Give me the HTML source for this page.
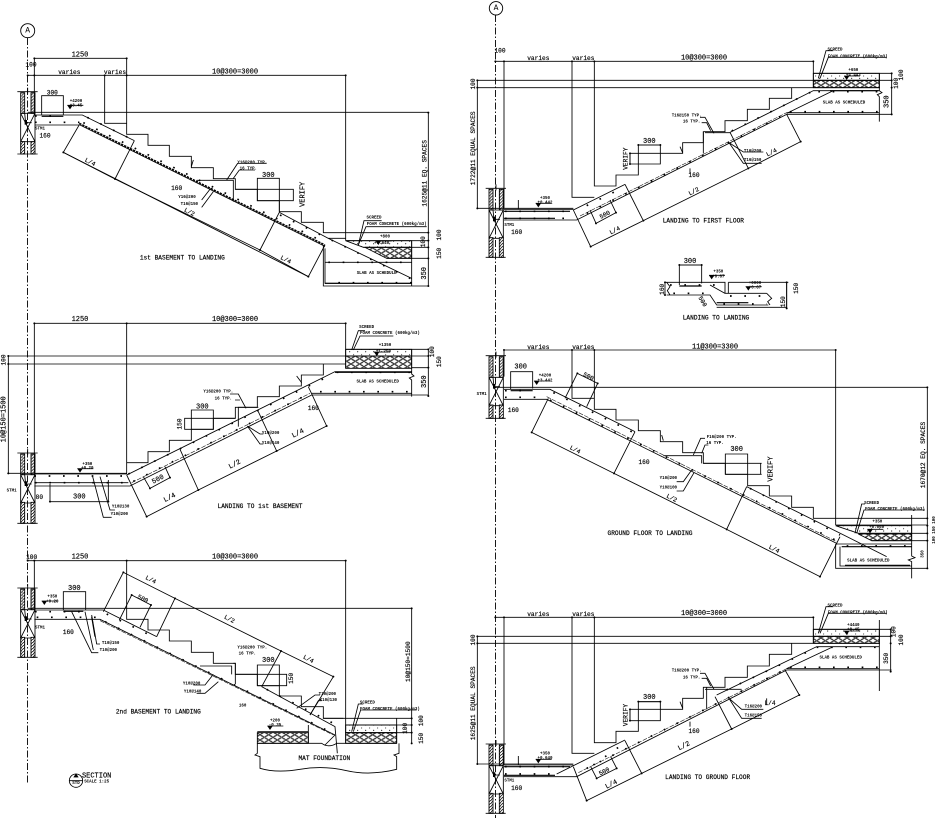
<!DOCTYPE html>
<html><head><meta charset="utf-8"><style>
html,body{margin:0;padding:0;background:#fff}
svg{display:block}
.l{fill:none;stroke:#000;stroke-width:2.6}
.l path,.l polyline,.l line{fill:none}
.dm{marker-start:url(#m);marker-mid:url(#m);marker-end:url(#m)}
.d{fill:none;stroke:#000;stroke-width:5;stroke-dasharray:5 38}
.r{fill:none;stroke:#000;stroke-width:4.5;stroke-dasharray:7 3}
.b{fill:none;stroke:#000;stroke-width:3.4}
.dd{fill:none;stroke:#000;stroke-width:1.6;stroke-dasharray:14 4}
.wh{fill:url(#wh);stroke:#000;stroke-width:2.6}
.hc{fill:url(#hc);stroke:#000;stroke-width:2.6}
.pc{fill:url(#pc);stroke:#000;stroke-width:2.6}
text{font-family:"Liberation Mono",monospace;fill:#000;stroke:#000;stroke-width:.5;text-anchor:middle;dominant-baseline:central}
.t{font-size:21px}
.m{font-size:18.5px}
.s{font-size:12.5px;font-weight:bold;stroke:none}
</style></head><body>
<svg width="939" height="818" viewBox="0 0 939 818" xmlns="http://www.w3.org/2000/svg">
<defs>
<marker id="m" markerUnits="userSpaceOnUse" markerWidth="8" markerHeight="8" refX="4" refY="4"><circle cx="4" cy="4" r="3" fill="#000"/></marker>
<pattern id="wh" patternUnits="userSpaceOnUse" width="9" height="9"><rect width="9" height="9" fill="#fff"/><path d="M-1 10L10 -1" stroke="#000" stroke-width="2.2"/><circle cx="2" cy="2" r="1.1" fill="#000"/></pattern>
<pattern id="hc" patternUnits="userSpaceOnUse" width="26" height="16"><ellipse cx="13" cy="8" rx="11" ry="6.5" fill="none" stroke="#000" stroke-width="1.6"/><ellipse cx="0" cy="0" rx="11" ry="6.5" fill="none" stroke="#000" stroke-width="1.6"/><ellipse cx="26" cy="0" rx="11" ry="6.5" fill="none" stroke="#000" stroke-width="1.6"/><ellipse cx="0" cy="16" rx="11" ry="6.5" fill="none" stroke="#000" stroke-width="1.6"/><ellipse cx="26" cy="16" rx="11" ry="6.5" fill="none" stroke="#000" stroke-width="1.6"/></pattern>
<pattern id="pc" patternUnits="userSpaceOnUse" width="24" height="16"><circle cx="5" cy="4" r="1.5" fill="#000"/><circle cx="17" cy="11" r="1.7" fill="#000"/></pattern>
<g id="wu">
<rect class="wh" x="-21" y="0" width="12" height="62"/><rect class="wh" x="10" y="0" width="12" height="62"/>
<path class="l" d="M-31 -3H30M-21 62H22M-21 62V147M22 62V147M-21 62L22 147M22 62L-21 147M-21 147H22M0 -15V3M-9 62L-6 90M-8 90H12"/>
<rect x="-9" y="82" width="7" height="14" fill="#000"/>
</g>
<g id="el"><path d="M-8 -12H8L0 0Z" fill="#000"/><path class="l" d="M-8 -12H40"/></g>
</defs>
<rect width="939" height="818" fill="#fff"/>

<!-- axes -->
<circle cx="27.7" cy="30.7" r="7" fill="none" stroke="#000" stroke-width="0.9"/>
<text x="27.7" y="31" font-size="8" style="stroke:none">A</text>
<line x1="27.5" y1="38" x2="27.5" y2="783" stroke="#000" stroke-width=".9" stroke-dasharray="7 2 1.5 2"/>
<circle cx="496" cy="8.3" r="6.7" fill="none" stroke="#000" stroke-width="0.9"/>
<text x="496" y="8.6" font-size="8" style="stroke:none">A</text>
<line x1="495.5" y1="15" x2="495.5" y2="818" stroke="#000" stroke-width=".9" stroke-dasharray="7 2 1.5 2"/>

<!-- PANEL 1 -->
<g transform="scale(.33333)">
<use href="#wu" x="83" y="278"/>
<rect class="wh" x="62" y="425" width="12" height="37"/><rect class="wh" x="93" y="425" width="12" height="37"/>
<path class="l" d="M52 462H113"/>
<polygon class="pc" points="1037,722 1235,722 1235,742 1090,742"/>
<polygon class="hc" points="1095,742 1235,742 1235,775 1160,775"/>
<polyline class="l dm" points="83,226 103,226 314,226 380,226 1037,226"/>
<polyline class="l dm" points="103,175 380,175"/>
<polyline class="l dm" points="1285,338 1285,698 1285,722 1285,742 1285,775 1285,858"/>
<path class="l" d="M103 175V345M380 175V403H444V436H508V469H574V503H640V536H706V568H772V602H838V635H904V667H970V698H1285M314 226V370H380M1037 226V722M83 337H1285M1037 722H1285M1235 722V858M1090 742H1285M1160 775H1285M975 787H1235M970 735V858H1285M975 745V850H1235"/>
<path class="l" d="M125 345V287H190V345M125 287H190M590 541H700V605M706 568H880V602H772V535H838V635M772 535H838M105 345H247L403 422M105 375H238M838 637L985 715L1235 835M985 715H1037"/>
<path class="r" d="M238 370L975 735"/>
<path class="l" d="M238 374L975 739M238 374L190 457L925 830L975 735M345 537L403 422M780 750L838 637"/>
<polyline class="l dm" points="190,457 345,537 780,750 925,830"/>
<polyline class="d" points="262,352 410,425"/><polyline class="d" points="840,645 1240,840"/><polyline class="d" points="250,368 975,728"/>
<path class="d" d="M105 348H190M105 367H238M985 787H1235"/>
<path class="b" d="M125 349H190M975 850H1235"/><path class="d" d="M1015 848H1235"/>
<path class="l" d="M680 540L713 490H800M700 535L718 510H765M605 600L632 565M605 622L640 575M1075 735L1092 662H1145M1075 735L1098 680H1280M580 480L574 500"/>
<use href="#el" x="210" y="328"/><use href="#el" x="1135" y="735"/>
<g><text class="t" x="240" y="167">1250</text><text class="m" x="208" y="217">varies</text><text class="m" x="345" y="217">varies</text><text class="t" x="705" y="217">10@300=3000</text><text class="m" x="93" y="195">100</text><text class="m" x="157" y="279">300</text><text class="s" x="228" y="306">+4200</text><text class="s" x="228" y="320">+3.45</text><text class="s" x="120" y="388">STM1</text><text class="m" x="135" y="408">160</text><text class="s" x="757" y="490">Y16@200 TYP.</text><text class="s" x="745" y="508">16 TYP.</text><text class="t" x="805" y="528">300</text><text class="m" x="530" y="565">160</text><text class="s" x="561" y="594">Y16@200</text><text class="s" x="568" y="615">T16@150</text><text class="t" x="910" y="583" transform="rotate(-90 910 583)">VERIFY</text><text class="m" x="1275" y="520" transform="rotate(-90 1275 520)">1625@11 EQ. SPACES</text><text class="m" x="270" y="487" transform="rotate(27 270 487)">L/4</text><text class="m" x="568" y="637" transform="rotate(27 568 637)">L/2</text><text class="m" x="857" y="780" transform="rotate(27 857 780)">L/4</text><text class="m" x="547" y="774">1st BASEMENT TO LANDING</text><text class="s" x="1122" y="656">SCREED</text><text class="s" x="1190" y="675">FOAM CONCRETE (600kg/m3)</text><text class="s" x="1155" y="712">+800</text><text class="s" x="1145" y="732">+0.640</text><text class="s" x="1130" y="822">SLAB AS SCHEDULE</text><text class="m" x="1270" y="725" transform="rotate(-90 1270 725)">100</text><text class="m" x="1318" y="705" transform="rotate(-90 1318 705)">100</text><text class="m" x="1318" y="760" transform="rotate(-90 1318 760)">150</text><text class="t" x="1275" y="820" transform="rotate(-90 1275 820)">350</text></g>
</g>

<!-- PANEL 2 -->
<g transform="translate(0,300) scale(.33333)">
<use href="#wu" x="83" y="462"/>
<rect class="wh" x="62" y="607" width="12" height="63"/><rect class="wh" x="93" y="607" width="12" height="63"/>
<path class="l" d="M52 670H113"/>
<rect class="pc" x="1037" y="148" width="198" height="20"/><rect class="hc" x="1037" y="168" width="198" height="37"/>
<polyline class="l dm" points="103,70 380,70 1037,70"/>
<polyline class="l dm" points="25,168 25,192 25,520"/>
<polyline class="l dm" points="1285,148 1285,168 1285,203 1285,288"/>
<path class="l" d="M103 70V520M380 70V522M1037 70V205M22 168H1285M22 192H1037M22 520H380M1037 148H1285M1235 203H1285M1235 148V222L1242 228L1228 234L1235 240V290M380 488H444V455H508V421H574V388H640V355H706V322H772V290H838V258H904V225H970V192"/>
<path class="l" d="M574 388V330H640V388H554V355H706M715 380V322H775M103 558H390L935 285H1285M103 548H385M935 280H1235M380 525L1005 215H1235M103 522H380"/>
<path class="dd" d="M395 548L930 280"/>
<path class="b" d="M1005 217H1235"/>
<path class="d" d="M103 528H380M105 548H380M1010 217H1235M960 275H1235"/>
<path class="d" d="M385 522L1000 222"/><path class="d" d="M400 544L930 280"/>
<path class="l" d="M440 650L380 525M595 570L540 448M830 453L775 335M980 378L925 260M450 565L430 530M510 533L495 500M150 552V605M325 540V605M738 325L715 282H690M720 300H705M300 530L330 630H345M278 530L310 652H335M742 378L780 402H790M742 378L780 432H790M1055 150L1075 92H1095M1060 150L1080 108H1180M890 228L905 248"/>
<polyline class="l dm" points="440,650 595,570 830,453 980,378"/>
<polyline class="l dm" points="450,565 510,533"/>
<polyline class="l dm" points="150,605 325,605"/>
<use href="#el" x="240" y="518"/><use href="#el" x="1130" y="168"/>
<g><text class="t" x="240" y="60">1250</text><text class="t" x="705" y="60">10@300=3000</text><text class="s" x="1100" y="84">SCREED</text><text class="s" x="1170" y="102">FOAM CONCRETE (600kg/m3)</text><text class="s" x="1155" y="138">+1350</text><text class="s" x="1150" y="158">+1.250</text><text class="m" x="12" y="180" transform="rotate(-90 12 180)">100</text><text class="t" x="14" y="358" transform="rotate(-90 14 358)">10@150=1500</text><text class="m" x="1298" y="155" transform="rotate(-90 1298 155)">100</text><text class="m" x="1318" y="185" transform="rotate(-90 1318 185)">150</text><text class="t" x="1275" y="245" transform="rotate(-90 1275 245)">350</text><text class="s" x="1133" y="248">SLAB AS SCHEDULED</text><text class="s" x="655" y="278">Y16@200 TYP.</text><text class="s" x="670" y="298">16 TYP.</text><text class="t" x="607" y="323">300</text><text class="m" x="540" y="372" transform="rotate(-90 540 372)">150</text><text class="s" x="812" y="402">Y10@200</text><text class="s" x="812" y="432">Y10@140</text><text class="m" x="940" y="325">160</text><text class="t" x="475" y="540" transform="rotate(-27 475 540)">500</text><text class="t" x="510" y="595" transform="rotate(-27 510 595)">L/4</text><text class="t" x="705" y="495" transform="rotate(-27 705 495)">L/2</text><text class="t" x="895" y="402" transform="rotate(-27 895 402)">L/4</text><text class="m" x="780" y="620">LANDING TO 1st BASEMENT</text><text class="s" x="262" y="495">+350</text><text class="s" x="262" y="507">+0.20</text><text class="t" x="238" y="593">300</text><text class="s" x="35" y="575">STM1</text><text class="m" x="118" y="592">80</text><text class="s" x="362" y="622">Y10@130</text><text class="s" x="358" y="645">Y10@200</text></g>
</g>

<!-- PANEL 3 -->
<g transform="translate(0,540) scale(.33333)">
<use href="#wu" x="83" y="147"/>
<rect class="wh" x="62" y="292" width="12" height="60"/><rect class="wh" x="93" y="292" width="12" height="60"/>
<path class="l" d="M52 352H113"/>
<rect class="hc" x="772" y="578" width="153" height="32"/>
<rect class="pc" x="1037" y="555" width="153" height="23"/><rect class="hc" x="1037" y="578" width="153" height="32"/>
<polyline class="l dm" points="83,62 103,62 380,62 1037,62"/>
<polyline class="l dm" points="1235,205 1235,535 1235,555 1235,578 1235,610"/>
<path class="l" d="M103 62V205M380 62V238H444V270H508V303H574V337H640V370H706V403H772V437H838V468H904V500H970V535H1235M83 205H1235M1037 62V610M1037 555H1235M1190 535V610M1037 578H1235M772 575H925M772 610H965Q985 625 1010 610H1190M925 555V610"/>
<path class="l" d="M772 610V640L765 645L780 650V685Q830 700 900 688T1040 692T1190 688V650L1182 645L1197 640V610M103 238H300L1005 585M970 535L1030 535"/>
<path class="l" d="M190 210V155H257V210M190 155H257M772 437V375H838V437M772 375H838M706 403H860V437H772M600 378H695V403M700 370H706V432M105 210H310L470 290M785 440L1005 560L1012 640M1005 585L975 615"/>
<path class="dd" d="M300 242L1000 585"/>
<path class="d" d="M105 215H255M110 232H300M320 222L470 295M800 448L1000 550M315 245L1000 580"/>
<path class="b" d="M190 214H250M275 230L285 290"/>
<path class="l" d="M370 97L310 215M525 175L470 290M843 333L785 440M1000 410L930 525M395 165L358 240M453 195L420 262"/>
<polyline class="l dm" points="370,97 525,175 843,333 1000,410"/>
<polyline class="l dm" points="395,165 453,195"/>
<path class="l" d="M275 225L290 312H300M215 215L275 338H295M255 215L280 330M640 403L615 435H580M655 425L615 460H590M890 505L945 465H960M930 525L955 482H965M1055 575L1075 492H1090M1060 575L1082 510H1250"/>
<use href="#el" x="133" y="195"/><use href="#el" x="810" y="570"/>
<circle cx="228" cy="722" r="20" fill="none" stroke="#000" stroke-width="2.6"/><path class="l" d="M208 722H248"/><path d="M220 712L228 700L236 712Z" fill="#000"/>
<g><text class="m" x="95" y="52">100</text><text class="t" x="240" y="52">1250</text><text class="t" x="705" y="52">10@300=3000</text><text class="t" x="223" y="147">300</text><text class="s" x="157" y="173">+350</text><text class="s" x="157" y="187">+0.20</text><text class="s" x="120" y="266">STM1</text><text class="m" x="205" y="278">160</text><text class="s" x="332" y="312">T10@150</text><text class="s" x="325" y="333">T10@200</text><text class="m" x="452" y="120" transform="rotate(27 452 120)">L/4</text><text class="m" x="428" y="177" transform="rotate(27 428 177)">500</text><text class="m" x="688" y="238" transform="rotate(27 688 238)">L/2</text><text class="m" x="925" y="358" transform="rotate(27 925 358)">L/4</text><text class="s" x="757" y="325">Y16@200 TYP.</text><text class="s" x="742" y="343">16 TYP.</text><text class="t" x="805" y="363">300</text><text class="m" x="875" y="415" transform="rotate(-90 875 415)">150</text><text class="s" x="575" y="434">Y10@200</text><text class="s" x="578" y="457">Y10@140</text><text class="s" x="728" y="500">160</text><text class="s" x="982" y="465">T10@200</text><text class="s" x="985" y="483">K10@130</text><text class="s" x="1102" y="491">SCREED</text><text class="s" x="1170" y="510">FOAM CONCRETE (600kg/m3)</text><text class="m" x="475" y="516">2nd BASEMENT TO LANDING</text><text class="m" x="1225" y="365" transform="rotate(-90 1225 365)">10@150=1500</text><text class="m" x="1217" y="565" transform="rotate(-90 1217 565)">100</text><text class="m" x="1265" y="542" transform="rotate(-90 1265 542)">100</text><text class="m" x="1265" y="595" transform="rotate(-90 1265 595)">150</text><text class="s" x="825" y="545">+200</text><text class="s" x="825" y="558">-0.35</text><text class="m" x="973" y="655">MAT FOUNDATION</text><text class="t" x="290" y="710">SECTION</text><text class="s" x="290" y="728">SCALE 1:25</text><text class="s" x="228" y="712">A</text><text class="s" x="228" y="732">STD</text></g>
</g>

<!-- PANEL 4 -->
<g transform="translate(470,0) scale(.33333)">
<use href="#wu" x="78" y="568"/>
<rect class="wh" x="57" y="713" width="12" height="59"/><rect class="wh" x="88" y="713" width="12" height="59"/>
<path class="l" d="M47 772H107"/>
<rect class="pc" x="1030" y="220" width="198" height="21"/><rect class="hc" x="1030" y="241" width="198" height="22"/>
<polyline class="l dm" points="76,184 102,184 306,184 373,184 1030,184"/>
<polyline class="l dm" points="22,241 22,263 22,625"/>
<polyline class="l dm" points="1265,220 1265,241 1265,263 1265,343"/>
<path class="l" d="M102 184V625M306 184V592H373M373 184V558H438V525H505V492M1030 184V263M20 241H1265M20 263H1230M20 625H310M1030 220H1265M1228 220V272L1236 278L1222 284L1228 290V365M950 343H1265M950 338H1228M505 435V525M571 435V492H480V460H638V428H700V395H765V362H832V328H898V295H965V263"/>
<path class="l" d="M505 435H571M700 395V460M705 398H780M102 628H310M102 660H320L950 343M310 630L465 553M780 397L1030 272H1228M1090 272H1228M1090 272L950 340"/>
<path class="dd" d="M330 648L950 338"/>
<path class="b" d="M1080 272H1225M102 634H300M255 655H102"/>
<path class="d" d="M105 634H310M105 655H320M1045 275H1225M960 335H1225M350 617L465 560M785 393L1025 275"/>
<path class="d" d="M350 640L950 340"/>
<path class="l" d="M362 740L310 630M520 662L465 553M835 505L780 397M992 425L950 343M378 670L360 630M438 638L420 600"/>
<polyline class="l dm" points="362,740 520,662 835,505 992,425"/>
<polyline class="l dm" points="378,670 438,638"/>
<polyline class="l dm" points="505,435 571,435"/>
<polyline class="l dm" points="480,460 480,492"/>
<path class="l" d="M777 428L820 456H880M777 428L820 490H875M732 400L705 352H690M722 392L710 368H695M660 505V520M1045 235L1068 152H1090M1050 235L1075 172H1250M145 600V628M630 440L638 458"/>
<use href="#el" x="205" y="622"/><use href="#el" x="1130" y="240"/>
<g><text class="m" x="90" y="153">100</text><text class="m" x="205" y="175">varies</text><text class="m" x="340" y="175">varies</text><text class="t" x="702" y="175">10@300=3000</text><text class="s" x="1095" y="152">SCREED</text><text class="s" x="1163" y="172">FOAM CONCRETE (600kg/m3)</text><text class="s" x="1150" y="213">+650</text><text class="s" x="1150" y="228">+4.442</text><text class="m" x="10" y="252" transform="rotate(-90 10 252)">100</text><text class="m" x="10" y="445" transform="rotate(-90 10 445)">1722@11 EQUAL SPACES</text><text class="m" x="1295" y="225" transform="rotate(-90 1295 225)">100</text><text class="m" x="1280" y="250" transform="rotate(-90 1280 250)">100</text><text class="t" x="1252" y="305" transform="rotate(-90 1252 305)">350</text><text class="s" x="1122" y="310">SLAB AS SCHEDULED</text><text class="s" x="650" y="350">T16@150 TYP.</text><text class="s" x="665" y="368">16 TYP.</text><text class="t" x="538" y="426">300</text><text class="m" x="468" y="476" transform="rotate(-90 468 476)">VERIFY</text><text class="s" x="848" y="456">T16@200</text><text class="s" x="848" y="483">T16@150</text><text class="m" x="672" y="527">160</text><text class="m" x="672" y="575" transform="rotate(-27 672 575)">L/2</text><text class="m" x="905" y="458" transform="rotate(-27 905 458)">L/4</text><text class="m" x="435" y="692" transform="rotate(-27 435 692)">L/4</text><text class="m" x="405" y="645" transform="rotate(-27 405 645)">500</text><text class="s" x="225" y="597">+350</text><text class="s" x="225" y="610">+0.442</text><text class="s" x="118" y="678">STM1</text><text class="m" x="140" y="697">160</text><text class="m" x="700" y="663">LANDING TO FIRST FLOOR</text></g>
<!-- landing to landing -->
<path class="l" d="M628 855V795H695V850M628 795H695M585 847H765V880H890M775 847H950V925M775 847V880M590 885H720L740 915H895M720 855L765 880M740 922H950M890 880L905 895L893 905L900 915M590 847L600 860L592 872L600 885M950 847H955"/>
<polyline class="l dm" points="585,847 585,885"/>
<polyline class="l dm" points="950,847 950,925"/>
<polyline class="l dm" points="628,795 695,795"/>
<path class="b" d="M628 858H695M740 908H835"/>
<path class="d" d="M600 855H765M610 880H720M780 888H890M760 912H890"/>
<use href="#el" x="725" y="838"/><use href="#el" x="835" y="872"/>
<g><text class="t" x="660" y="786">300</text><text class="s" x="745" y="818">+350</text><text class="s" x="745" y="832">+0.67</text><text class="s" x="855" y="852">+0000</text><text class="s" x="855" y="866">+0.67</text><text class="m" x="577" y="868" transform="rotate(-90 577 868)">160</text><text class="m" x="980" y="865" transform="rotate(-90 980 865)">150</text><text class="m" x="940" y="905" transform="rotate(-90 940 905)">150</text><text class="m" x="697" y="905" transform="rotate(60 697 905)">500</text><text class="m" x="738" y="954">LANDING TO LANDING</text></g>
</g>

<!-- PANEL 5 -->
<g transform="translate(470,330) scale(.33333)">
<use href="#wu" x="78" y="80"/>
<rect class="wh" x="57" y="225" width="12" height="40"/><rect class="wh" x="88" y="225" width="12" height="40"/>
<path class="l" d="M47 265H107"/>
<polygon class="pc" points="1097,587 1325,587 1325,610 1165,610"/>
<polygon class="hc" points="1165,612 1325,612 1325,632 1205,632"/>
<polyline class="l dm" points="102,60 306,60 373,60 1097,60"/>
<polyline class="l dm" points="1372,172 1372,565 1372,587 1372,610 1372,632 1372,715"/>
<path class="l" d="M102 60V140M306 60V205H373M373 60V238H438V270H505V302H571V335H638V368H700V400H766V433H833V467H898V498H965V532H1030V565H1372M76 172H1372M1097 60V585M1097 585H1372M1165 610H1372M1205 632H1372M1097 642H1325M1097 642V715H1372M1110 650V708H1325M1325 555V678L1335 683L1315 690L1325 695V745"/>
<path class="l" d="M122 178V125H188V175M122 125H188M766 433V372H833V433M766 372H833M700 400H875M766 433H875M872 400V433M580 377H695V400M102 178H240L495 305M102 208H230L1100 640M830 470L1115 612L1250 680"/>
<path class="dd" d="M230 200L1100 635"/>
<path class="d" d="M105 182H188M105 202H230M250 188L495 310M840 475L1110 615"/>
<path class="d" d="M240 210L1100 632"/>
<path class="b" d="M122 182H188M1115 650H1325M1125 706H1320"/>
<path class="d" d="M1130 648H1320"/>
<path class="l" d="M185 307L235 205M432 430L495 305M770 598L830 470M1050 740L1110 620M322 130L285 205M383 160L350 230"/>
<polyline class="l dm" points="185,307 432,430 770,598 1050,740"/>
<polyline class="l dm" points="322,130 383,160"/>
<path class="l" d="M665 420L640 455H620M672 428L640 483H620M670 375L692 325H705M695 370L705 345H715M1155 610L1175 522H1185M1160 610L1182 540H1365M575 315L580 332"/>
<use href="#el" x="200" y="165"/><use href="#el" x="1200" y="610"/>
<g><text class="m" x="205" y="52">varies</text><text class="m" x="340" y="52">varies</text><text class="t" x="735" y="52">11@300=3300</text><text class="t" x="152" y="112">300</text><text class="s" x="225" y="140">+4200</text><text class="s" x="225" y="154">+3.442</text><text class="s" x="35" y="195">STM1</text><text class="m" x="130" y="242">160</text><text class="m" x="355" y="140" transform="rotate(27 355 140)">500</text><text class="m" x="315" y="360" transform="rotate(27 315 360)">L/4</text><text class="m" x="605" y="505" transform="rotate(27 605 505)">L/2</text><text class="m" x="912" y="658" transform="rotate(27 912 658)">L/4</text><text class="m" x="522" y="398">160</text><text class="s" x="595" y="447">Y10@200</text><text class="s" x="595" y="476">Y10@100</text><text class="s" x="755" y="324">F16@200 TYP.</text><text class="s" x="735" y="342">16 TYP.</text><text class="t" x="800" y="360">300</text><text class="t" x="905" y="417" transform="rotate(-90 905 417)">VERIFY</text><text class="m" x="1360" y="375" transform="rotate(-90 1360 375)">1670@12 EQ. SPACES</text><text class="s" x="1205" y="522">SCREED</text><text class="s" x="1275" y="540">FOAM CONCRETE (600kg/m3)</text><text class="s" x="1222" y="578">+350</text><text class="s" x="1220" y="594">+0.060</text><text class="s" x="1395" y="600" transform="rotate(-90 1395 600)">100 150 100</text><text class="s" x="1360" y="672" transform="rotate(-90 1360 672)">350</text><text class="s" x="1195" y="695">SLAB AS SCHEDULED</text><text class="m" x="540" y="610">GROUND FLOOR TO LANDING</text></g>
</g>

<!-- PANEL 6 -->
<g transform="translate(470,590) scale(.33333)">
<use href="#wu" x="78" y="465"/>
<rect class="wh" x="57" y="610" width="12" height="60"/><rect class="wh" x="88" y="610" width="12" height="60"/>
<path class="l" d="M47 670H107"/>
<rect class="pc" x="1030" y="118" width="198" height="21"/><rect class="hc" x="1030" y="139" width="198" height="21"/>
<polyline class="l dm" points="76,82 102,82 306,82 373,82 1030,82"/>
<polyline class="l dm" points="22,139 22,160 22,522"/>
<polyline class="l dm" points="1262,118 1262,139 1262,160 1262,245"/>
<path class="l" d="M102 82V525M306 82V490H373M373 82V458H438V424H505V392M1030 82V160M20 139H1260M20 160H1230M20 522H310M1030 118H1260M1228 90V303M950 240H1265M950 236H1228M505 335V424M571 335V392H480V358H638V325H700V292H765V262H832V228H898V193H965V160"/>
<path class="l" d="M505 335H571M710 292V358M705 298H815M102 525H310M102 560H320L950 240M260 552L465 450M740 315L1040 170H1228M1090 170L950 236"/>
<path class="dd" d="M325 548L950 236"/>
<path class="d" d="M105 530H310M105 552H260M1040 172H1225M960 232H1225M370 525L465 458M770 300L1035 175"/>
<path class="d" d="M350 535L950 236"/>
<path class="b" d="M102 530H300M102 556H255"/>
<path class="l" d="M350 632L310 530M515 550L465 452M785 417L735 320M988 315L945 240M380 565L362 530M440 535L422 500"/>
<polyline class="l dm" points="350,632 515,550 785,417 988,315"/>
<polyline class="l dm" points="380,565 440,535"/>
<polyline class="l dm" points="505,335 571,335"/>
<polyline class="l dm" points="480,358 480,392"/>
<path class="l" d="M777 325L815 358H880M777 325L815 385H875M732 298L705 250H690M722 288L710 265H695M660 395V410M630 335L638 355M1045 130L1068 50H1090M1050 130L1075 70H1250M145 498V525M890 345V325"/>
<use href="#el" x="205" y="520"/><use href="#el" x="1130" y="135"/>
<g><text class="m" x="205" y="74">varies</text><text class="m" x="340" y="74">varies</text><text class="t" x="702" y="72">10@300=3000</text><text class="s" x="1095" y="50">SCREED</text><text class="s" x="1163" y="70">FOAM CONCRETE (600kg/m3)</text><text class="s" x="1150" y="108">+4440</text><text class="s" x="1150" y="122">+0.45</text><text class="m" x="10" y="150" transform="rotate(-90 10 150)">100</text><text class="m" x="10" y="340" transform="rotate(-90 10 340)">1625@11 EQUAL SPACES</text><text class="m" x="1272" y="125" transform="rotate(-90 1272 125)">100</text><text class="m" x="1295" y="150" transform="rotate(-90 1295 150)">100</text><text class="m" x="1250" y="205" transform="rotate(-90 1250 205)">350</text><text class="s" x="1112" y="205">SLAB AS SCHEDULED</text><text class="s" x="650" y="245">T16@200 TYP.</text><text class="s" x="665" y="265">16 TYP.</text><text class="t" x="538" y="324">300</text><text class="m" x="468" y="375" transform="rotate(-90 468 375)">VERIFY</text><text class="s" x="850" y="352">T16@200</text><text class="s" x="850" y="380">T16@150</text><text class="m" x="672" y="425">160</text><text class="m" x="900" y="340">L/4</text><text class="t" x="643" y="470" transform="rotate(-27 643 470)">L/2</text><text class="t" x="425" y="585" transform="rotate(-27 425 585)">L/4</text><text class="m" x="403" y="545" transform="rotate(-27 403 545)">500</text><text class="s" x="225" y="493">+350</text><text class="s" x="225" y="507">+0.640</text><text class="s" x="118" y="575">STM1</text><text class="m" x="140" y="595">160</text><text class="m" x="713" y="562">LANDING TO GROUND FLOOR</text></g>
</g>
</svg>
</body></html>
